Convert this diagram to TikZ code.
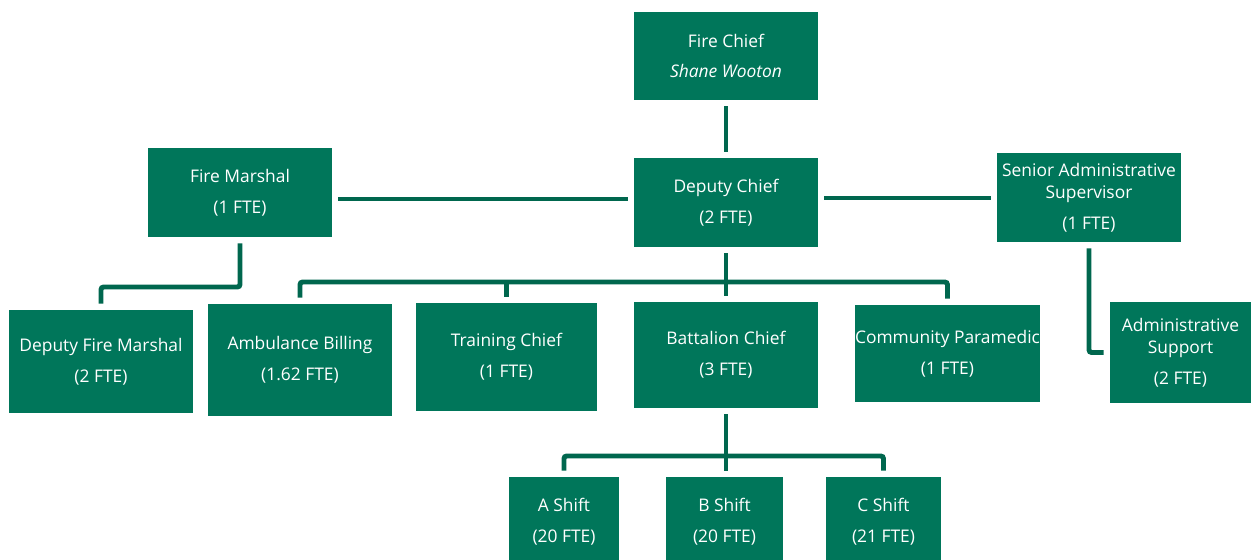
\documentclass[tikz,border=0pt]{standalone}
\usepackage{fontspec}
\setmainfont{Open Sans}
\usepackage{tikz}
\usetikzlibrary{positioning}
\definecolor{boxgreen}{HTML}{00765A}
\definecolor{linegreen}{HTML}{00674E}

\begin{document}
\begin{tikzpicture}[x=0.02cm, y=-0.02cm,
    unit/.style={rectangle, fill=boxgreen, text=white, align=center, inner sep=0pt, minimum width=3.68cm, minimum height=1.78cm, font=\fontsize{9.9}{12.5}\selectfont},
    link/.style={line width=2.8pt, color=linegreen, rounded corners=1.5pt, shorten <=0.12cm, shorten >=0.12cm}
]
\useasboundingbox (0,0) rectangle (1251,560);
\clip (0,0) rectangle (1251,560);

% top of the chart
\node[unit, minimum height=1.76cm] (chief) at (726,56) {Fire Chief\\[5pt]\textit{Shane Wooton}};
\node[unit] (deputy) at (726,202.5) {Deputy Chief\\[5pt](2 FTE)};
\node[unit] (marshal) at (240,192.5) {Fire Marshal\\[5pt](1 FTE)};
\node[unit] (senior) at (1089,197.5) {Senior Administrative\\Supervisor\\[5pt](1 FTE)};

% second row
\node[unit, minimum height=2.06cm] (dfm) at (101,361.5) {Deputy Fire Marshal\\[5pt](2 FTE)};
\node[unit, minimum height=2.24cm] (billing) at (300,360) {Ambulance Billing\\[5pt](1.62 FTE)};
\node[unit, minimum width=3.62cm, minimum height=2.16cm] (training) at (506.5,357) {Training Chief\\[5pt](1 FTE)};
\node[unit, minimum height=2.12cm] (battalion) at (726,355) {Battalion Chief\\[5pt](3 FTE)};
\node[unit, minimum width=3.7cm, minimum height=1.94cm] (medic) at (947.5,353.5) {Community Paramedic\\[5pt](1 FTE)};
\node[unit, minimum width=2.82cm, minimum height=2.04cm] (admin) at (1180.5,352.5) {Administrative\\Support\\[5pt](2 FTE)};

% shifts
\node[unit, minimum width=2.2cm, minimum height=1.8cm] (ashift) at (564,522) {A Shift\\[5pt](20 FTE)};
\node[unit, minimum width=2.34cm, minimum height=1.8cm] (bshift) at (724.5,522) {B Shift\\[5pt](20 FTE)};
\node[unit, minimum width=2.3cm, minimum height=1.8cm] (cshift) at (883.5,522) {C Shift\\[5pt](21 FTE)};

\coordinate (fmbus) at (170,287);
\coordinate (mainbus) at (726,282);
\coordinate (shiftbus) at (726,456);

\draw[link] (chief) -- (deputy);
\draw[link] (marshal.east |- 0,199) -- (deputy.west |- 0,199);
\draw[link] (deputy.east |- 0,198) -- (senior.west |- 0,198);

\draw[link] (marshal.south) -- (marshal.south |- fmbus) -| (dfm.north);
\draw[link] (deputy.south) -- (battalion.north);
\draw[link] (billing.north) |- (mainbus) -| (medic.north);
\draw[link, shorten <=0pt] (training.north |- mainbus) -- (training.north);
\draw[link] (senior.south) |- (admin.west);

\draw[link] (battalion.south) -- (battalion.south |- bshift.north);
\draw[link] (ashift.north) |- (shiftbus) -| (cshift.north);
\end{tikzpicture}
\end{document}
